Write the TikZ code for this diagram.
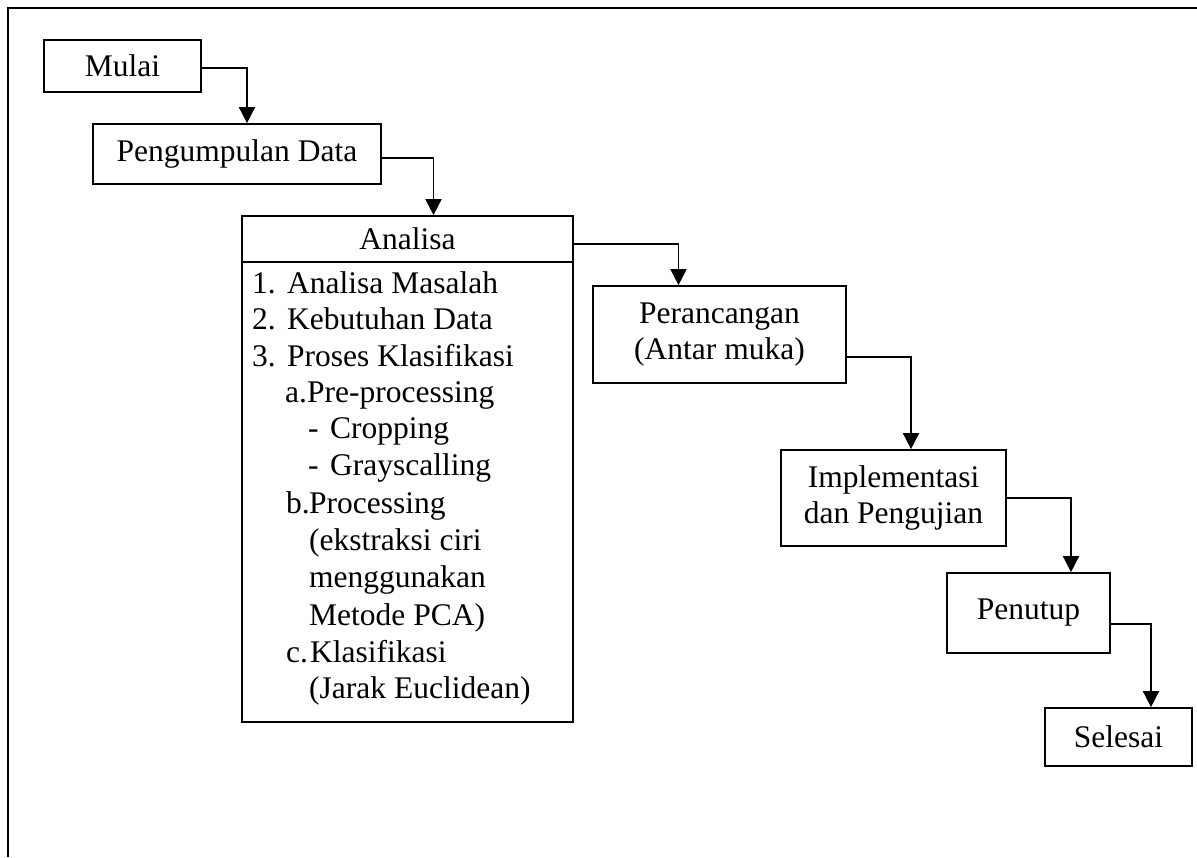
\documentclass[tikz,border=0pt]{standalone}
\usepackage{fontspec}
\setmainfont{Liberation Serif}
\usetikzlibrary{arrows.meta}
\begin{document}
\begin{tikzpicture}[x=1pt,y=-1pt,
  every node/.style={font=\fontsize{31.5}{36.8}\selectfont},
  box/.style={draw,line width=1.7pt,inner sep=0pt,align=center},
  item/.style={inner sep=0pt,anchor=base west},
  arr/.style={line width=1.7pt,-{Triangle[width=16pt,length=16pt]}}]
\useasboundingbox (0,0) rectangle (1197,857);
\draw[line width=2.2pt] (8,857) -- (8,8) -- (1197,8);
% boxes
\node[box,minimum width=157pt,minimum height=52pt] (mulai) at (122.5,66) {Mulai};
\node[box,minimum width=288pt,minimum height=60pt] (peng) at (237,154) {Pengumpulan Data};
\node[box,minimum width=331pt,minimum height=506pt] (analisa) at (407.5,469) {};
\node[box,anchor=north,minimum width=331pt,minimum height=46pt] (ahead) at (analisa.north) {Analisa};
\node[box,minimum width=253pt,minimum height=97pt] (peran) at (719.5,334.5) {Perancangan\\(Antar muka)};
\node[box,minimum width=225pt,minimum height=96pt] (impl) at (893.5,498) {Implementasi\\dan Pengujian};
\node[box,minimum width=163pt,minimum height=80pt] (penutup) at (1028.5,613) {Penutup};
\node[box,minimum width=147pt,minimum height=58pt] (selesai) at (1118.5,737) {Selesai};
% list inside Analisa
\node[item] (l1) at (252,293) {\makebox[35pt][l]{1.}Analisa Masalah};
\node[item] (l2) at (252,329) {\makebox[35pt][l]{2.}Kebutuhan Data};
\node[item] (l3) at (252,366) {\makebox[35pt][l]{3.}Proses Klasifikasi};
\node[item] (l4) at (285,402) {\makebox[22pt][l]{a.}Pre-processing};
\node[item] (l5) at (308,438) {\makebox[22pt][l]{-}Cropping};
\node[item] (l6) at (308,475) {\makebox[22pt][l]{-}Grayscalling};
\node[item] (l7) at (286,513) {\makebox[23pt][l]{b.}Processing};
\node[item] (l8) at (309,550) {(ekstraksi ciri};
\node[item] (l9) at (309,587) {menggunakan};
\node[item] (l10) at (309,625) {Metode PCA)};
\node[item] (l11) at (286,662) {\makebox[24pt][l]{c.}Klasifikasi};
\node[item] (l12) at (309,698) {(Jarak Euclidean)};
% connectors
\draw[arr] ([yshift=-2pt]mulai.east) -| ([xshift=10pt]peng.north);
\draw[arr] ([yshift=-4pt]peng.east) -| ([xshift=26pt]ahead.north);
\draw[arr] ([yshift=-5pt]ahead.east) -| ([xshift=-41pt]peran.north);
\draw[arr] ([yshift=-22.5pt]peran.east) -| ([xshift=17.5pt]impl.north);
\draw[arr] (impl.east) -| ([xshift=42.5pt]penutup.north);
\draw[arr] ([yshift=-11pt]penutup.east) -| ([xshift=32.5pt]selesai.north);
\end{tikzpicture}
\end{document}
